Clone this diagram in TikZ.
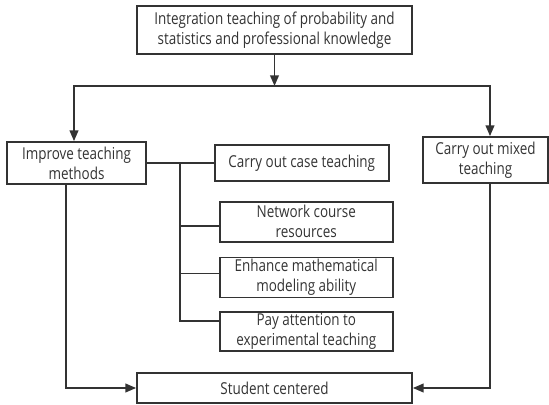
\documentclass[tikz,border=0pt]{standalone}
\usepackage{fontspec}
\setmainfont[FakeStretch=0.82]{Open Sans}
\usepackage{xcolor}
\usetikzlibrary{positioning, arrows.meta}

\begin{document}
\begin{tikzpicture}[
    node distance=0.4cm and 0.3cm,
    box/.style={rectangle, draw=black!80, line width=1.5pt, inner sep=0pt, align=center,
        font=\fontsize{14}{17}\selectfont, text=black!80},
    arrow/.style={-{Triangle[length=3.2mm, width=2.6mm]}, line width=1.5pt, draw=black!80},
    line/.style={line width=1.5pt, draw=black!80},
]
\useasboundingbox (0,0) rectangle (16.47,-12.15);

% Top layer
\node[box, minimum width=8.25cm, minimum height=1.44cm] (integ) at (8.235,-0.9)
    {Integration teaching of probability and\\statistics and professional knowledge};
\coordinate (bus) at (8.235,-2.58);

% Second layer
\node[box, minimum width=4.17cm, minimum height=1.26cm] (improve) at (2.295,-4.89)
    {Improve teaching\\methods};
\node[box, minimum width=3.75cm, minimum height=1.38cm] (mixed) at (14.565,-4.8)
    {Carry out mixed\\teaching};

% Methods column
\node[box, minimum width=5.22cm, minimum height=1.08cm, right=2.01cm of improve] (caset) {Carry out case teaching};
\node[box, minimum width=5.19cm, minimum height=1.2cm, below=0.57cm of caset, xshift=0.135cm] (network)
    {Network course\\resources};
\node[box, minimum width=5.19cm, minimum height=1.2cm, below=0.42cm of network] (modeling)
    {Enhance mathematical\\modeling ability};
\node[box, minimum width=5.19cm, minimum height=1.17cm, below=0.39cm of modeling] (experim)
    {Pay attention to\\experimental teaching};
\coordinate (trunk) at (5.4,-4.89);

% Bottom layer
\node[box, minimum width=8.25cm, minimum height=0.9cm] (student) at (8.235,-11.64) {Student centered};

% Arrows
\draw[arrow] (integ) -- (bus);
\draw[arrow] (bus) -| ([xshift=-0.075cm]improve.north);
\draw[arrow] (bus) -| ([xshift=0.135cm]mixed.north);
\draw[arrow] ([xshift=-0.315cm]improve.south) |- (student.west);
\draw[arrow] ([xshift=0.135cm]mixed.south) |- (student.east);

% Branches
\draw[line] (improve.east) -- (caset.west);
\draw[line] (trunk) |- ([yshift=0.315cm]experim.west);
\draw[line] ([yshift=-0.12cm]network.west) -- ([yshift=-0.12cm]network.west -| trunk);
\draw[line] ([yshift=0.12cm]modeling.west) -- ([yshift=0.12cm]modeling.west -| trunk);

\end{tikzpicture}
\end{document}
